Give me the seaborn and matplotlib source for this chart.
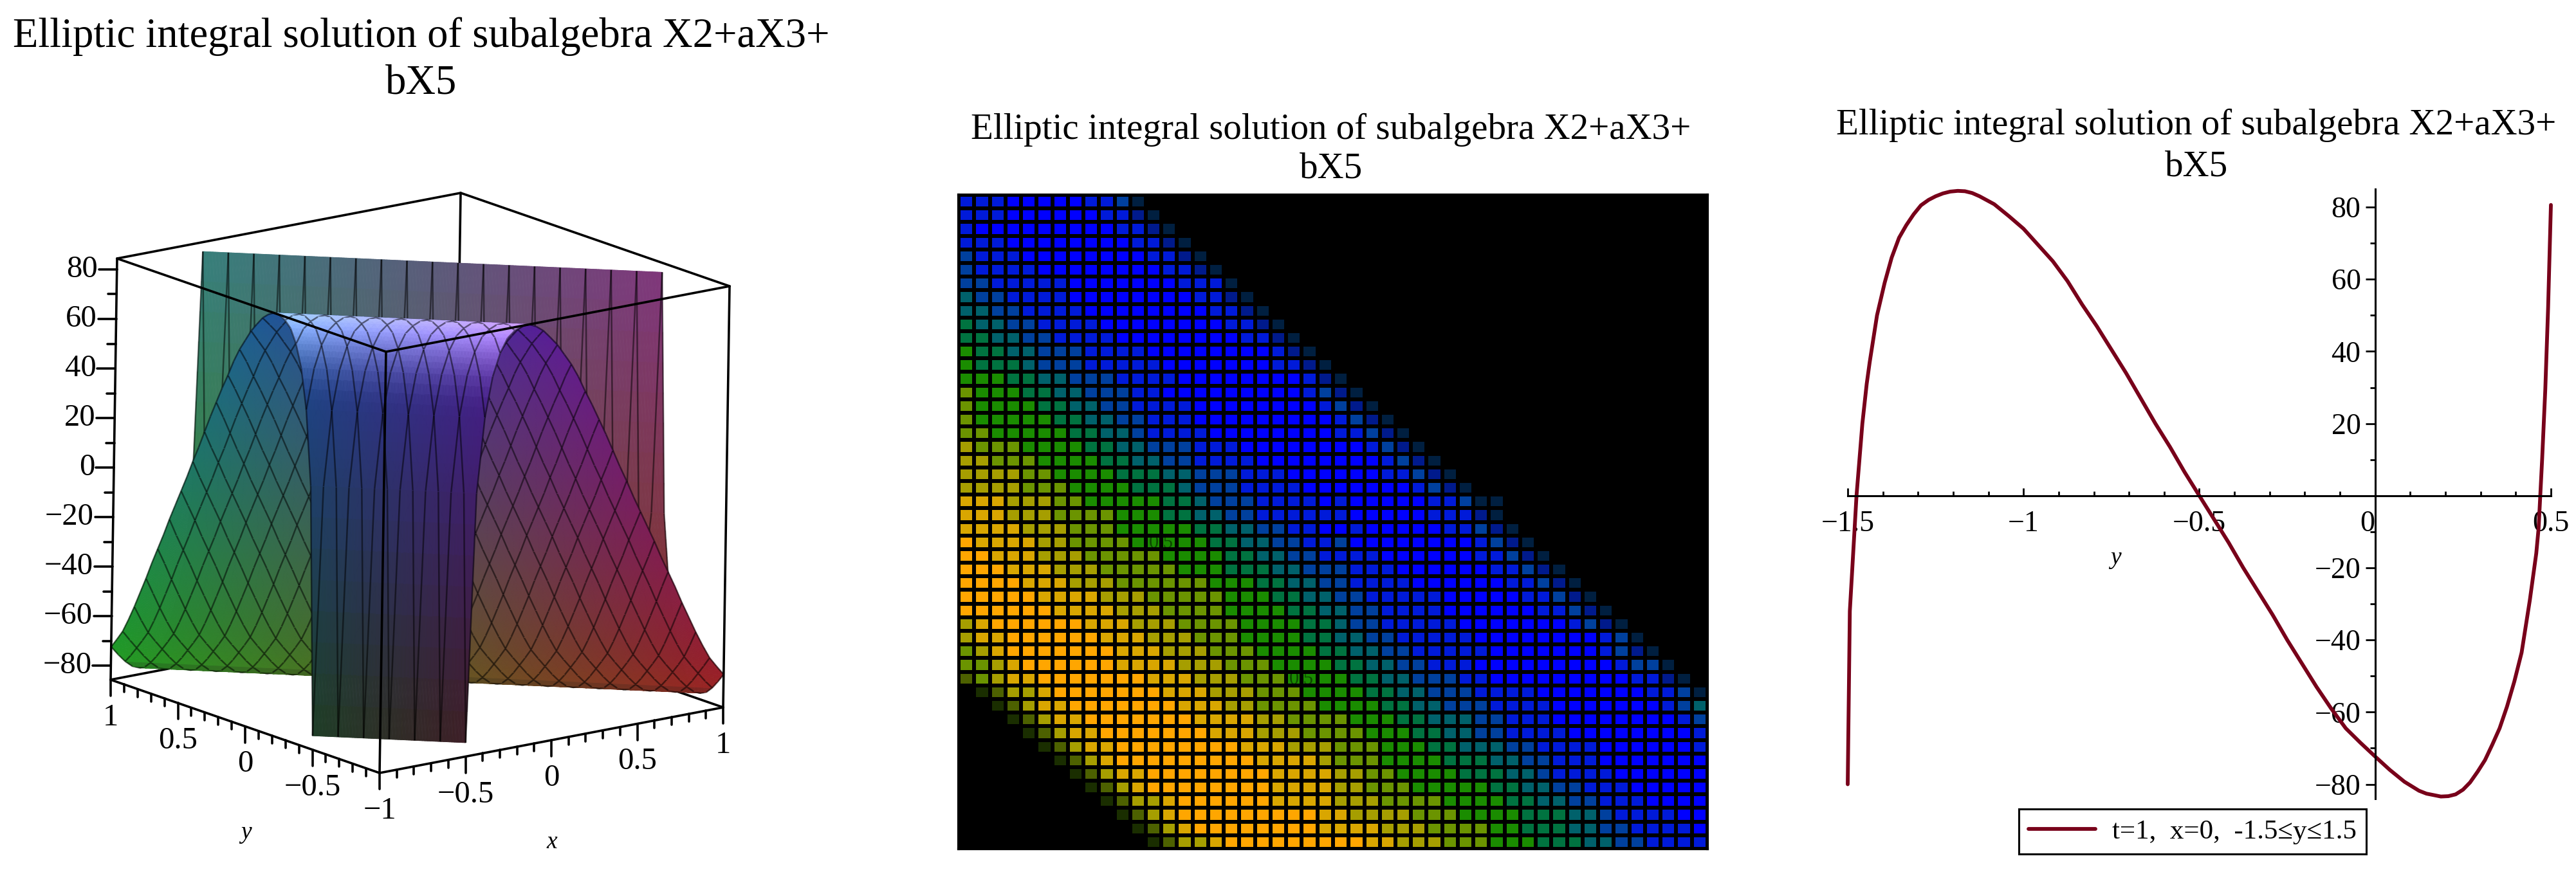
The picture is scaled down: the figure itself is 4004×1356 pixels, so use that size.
import numpy as np
import matplotlib
matplotlib.use("Agg")
import matplotlib.pyplot as plt
from matplotlib.collections import PolyCollection, LineCollection
from matplotlib.colors import ListedColormap
import seaborn as sns

title = "Elliptic integral solution of subalgebra X2+aX3+\nbX5"
legend_label = "t=1,  x=0,  -1.5\u2264y\u22641.5"

# value of the curve on y = -1.5 ... 0.5 in steps of 1/24
ridge_val = [-80, 20, 50, 66, 75, 80.5, 83, 84.3, 84.4, 83, 80.8, 77.5, 74, 69.5, 65, 59.5, 53,
             47, 40.5, 34, 27, 20, 13.5, 6.5, 0, -6.5, -13, -20, -26.5, -33, -40, -46.5, -53,
             -59, -64.5, -68.5, -72.3, -76, -79.3, -81.8, -83, -83.3, -81.5, -76.5, -69, -58.5,
             -43.5, -16, 80.6]
# extra points on the bends and steep ends of the curve
extra_y = [-1.494, -1.475, -1.446, -1.4375, -1.395, -1.354, -1.3125, -1.27, -1.229, -1.187, -1.146,
           0.146, 0.187, 0.229, 0.27, 0.3125, 0.354, 0.396, 0.44, 0.465, 0.475, 0.484, 0.492]
extra_val = [-32, 0, 31, 37, 59, 71.5, 78, 82, 83.8, 84.5, 83.9,
             -82.6, -83.4, -82.8, -79.5, -73.3, -64.5, -51.5, -29, -9, 10, 29.4, 52]

z_ticks = [-80, -60, -40, -20, 0, 20, 40, 60, 80]
y_ticks_3d = [1, 0.5, 0, -0.5, -1]
x_ticks_3d = [-0.5, 0, 0.5, 1]
curve_xticks = [-1.5, -1, -0.5, 0, 0.5]
curve_yticks = [-80, -60, -40, -20, 20, 40, 60, 80]

# colour level of each cell of the middle panel, hex digit per cell, short rows are black on the right
heat_rows = [
    "BBBCCCCCBBAE",
    "BBBCCCCCCBBDE",
    "BCCCCCCCCCBBDE",
    "BBBCCCCCCCCBBDE",
    "ABBBCCCCCCCCBBDE",
    "ABBBBCCCCCCCCBBDE",
    "AABBBBBCCCCCCCBBBE",
    "9AABBBBCCCCCCCCBBDE",
    "99AABBBBCCCCCCCCBBDE",
    "899AABBBBCCCCCCCCBBDE",
    "8899AABBBBCCCCCCCCBBDE",
    "78899AAABBBBCCCCCCCCBDE",
    "78889AAABBBBBCCCCCCCBBDE",
    "7778899AAABBBBCCCCCCCCBDE",
    "67778899AAABBCCCCCCCCCBADE",
    "677778899AABBBBCCCCCCCCBADE",
    "6777778899AABBBCCCCCCCCCBADE",
    "66777778899ABBBBCCCCCCCCBBADE",
    "566677778899AAABBBCCCCCCCCBADE",
    "5566677778899AABBBBCCCCCCCCBADE",
    "555566777788899AAABBBCCCCCCBBADE",
    "555566677778889AAABBBBCCCCCCCBADE",
    "4445556677777889AAABBBBCBCCCCCBBAEE",
    "44455566667778899AABBBBBBCCCCCBBBDE",
    "4444555666777778899AABBCCBCCCCCBBADE",
    "344445566667777788 99AABB".replace(" ", "") + "ACCCCCCCCBADE",
    "334445556666677778899AABBBBCCCCCCBBADE",
    "333444555666667778889 9AA".replace(" ", "") + "ABBBCCCCCCBBADE",
    "333344455566666677788 99A".replace(" ", "") + "ABBBBCCCCCCBBADE",
    "33333444455566666777 8899".replace(" ", "") + "AABBBBBCCCCCBBADE",
    "33333344445556666777788 9".replace(" ", "") + "9AABBBBCCCCCCBBADE",
    "543333334445556666777788" + "9AABBBBBCCCCCCCBADE",
    "544333333444555666777788" + "99AABBBBBCCCCCCCCBAE",
    "654333333344455566677778" + "899AABBBBBCCCCCCCBADE",
    "665433333344445556667777" + "8899AABBBCCCCCCCCCBAAE",
    "265443333333444555666777" + "78899AAABBCCCCCCCCCBBDE",
    "012554333333344455566677" + "778899AAABBBBCCCCCCCBBAE",
    "001254433333334445566667" + "7778899AAABBBBCCCCCCCBA9",
    "000125443333333444455666" + "677788999AABBBCCCCCCCCBA",
    "000012544333333344455566" + "667778899AABBBBCCCCCCCCB",
    "000001254433333333444555" + "66677788999AABBBBCCCCCCB",
    "000000125433333333344445" + "666777788899AABBBCCCCCCC",
    "000000012544333333334444" + "5566777788899ABBBBCCCCCC",
    "000000001254333333334444" + "55666777778899AABBBCCCCC",
    "000000000125543333334444" + "555666677778899AABBBCCCC",
    "000000000012543333333334" + "455556667777888 99ABBBBCC".replace(" ", ""),
    "000000000001254333333334" + "44455566667788899AABBBBC",
    "000000000000125543333333" + "33445556667778889 9AABBBB".replace(" ", ""),
]

W, H = 4004, 1356

sns.set_theme(style="white")
plt.rcParams["font.family"] = ["Liberation Serif", "DejaVu Serif"]

fig = plt.figure(figsize=(W / 100, H / 100), dpi=100)


def px_axes(left, top, right, bottom):
    return fig.add_axes([left / W, 1 - bottom / H, (right - left) / W, (bottom - top) / H])


canvas = fig.add_axes([0, 0, 1, 1])
canvas.set_xlim(0, W)
canvas.set_ylim(H, 0)
canvas.axis("off")

# ---- left panel, surface seen along the diagonal, z = curve(x + y)
zlo, zhi = -85.6, 84.4


def proj(x, y, z):
    u = (x + 1) / 2
    v = (y + 1) / 2
    w = (z - zlo) / (zhi - zlo)
    return (590 + 534 * u - 418 * v + 10 * w, 1202 - 102 * u - 145 * v - 655 * w)


grid = np.linspace(-1, 1, 49)


def level(i, j):
    return ridge_val[i + j - 12]


def shade(pts, k):
    x = np.mean([p[0] for p in pts])
    y = np.mean([p[1] for p in pts])
    z = np.mean([p[2] for p in pts])
    rgb = np.array([(x + 1) / 2, (y + 1) / 2, (z - zlo) / (zhi - zlo)])
    f = 0.48 if k < 38 else 0.38
    c = 0.12 + f * rgb
    if k <= 7:
        c = c + 0.5 * np.clip((z - 50) / 34, 0, 1) ** 2
    return tuple(np.clip(c, 0, 1))


def split(pts, n):
    # cut a triangle in four, n times, so steep strips get a smooth colour
    if n == 0:
        return [pts]
    a, b, c = [np.array(p) for p in pts]
    ab, bc, ca = (a + b) / 2, (b + c) / 2, (c + a) / 2
    out = []
    for t in [(a, ab, ca), (ab, b, bc), (ca, bc, c), (ab, bc, ca)]:
        out += split(t, n - 1)
    return out


for m in range(48):
    dz = abs(ridge_val[m + 1] - ridge_val[m])
    n = 3 if dz > 20 else (2 if dz > 4 else 1)
    tris, cols, segs = [], [], []
    for i in range(49):
        raw = []
        # lower triangles of the strip
        j = 12 + m - i
        if 0 <= j <= 47 and i <= 47:
            raw.append([(grid[i], grid[j], level(i, j)), (grid[i + 1], grid[j], level(i + 1, j)),
                        (grid[i], grid[j + 1], level(i, j + 1))])
        # upper triangles of the strip
        j = 13 + m - i
        if 1 <= j <= 48 and i >= 1:
            raw.append([(grid[i], grid[j], level(i, j)), (grid[i - 1], grid[j], level(i - 1, j)),
                        (grid[i], grid[j - 1], level(i, j - 1))])
        for pts in raw:
            for t in split(pts, n):
                tris.append([proj(*p) for p in t])
                cols.append(shade(t, m))
        # mesh lines, every second grid line
        j = 12 + m - i
        if 0 <= j <= 48:
            if i % 2 == 0 and j < 48:
                segs.append([proj(grid[i], grid[j], level(i, j)), proj(grid[i], grid[j + 1], level(i, j + 1))])
            if j % 2 == 0 and i < 48:
                segs.append([proj(grid[i], grid[j], level(i, j)), proj(grid[i + 1], grid[j], level(i + 1, j))])
    z0 = 10 + (48 - m)
    canvas.add_collection(PolyCollection(tris, facecolors=cols, edgecolors=cols, linewidths=0.6, zorder=z0))
    canvas.add_collection(LineCollection(segs, colors=[(0, 0, 0, 0.5)], linewidths=1.8, zorder=z0 + 0.5))

box_lw = 2.6


def edge(a, b, z):
    canvas.plot([a[0], b[0]], [a[1], b[1]], color="black", lw=box_lw, zorder=z, solid_capstyle="round")


tl, tf, tr, tb = proj(-1, 1, zhi), proj(-1, -1, zhi), proj(1, -1, zhi), proj(1, 1, zhi)
bl, bf, br, bb = proj(-1, 1, zlo), proj(-1, -1, zlo), proj(1, -1, zlo), proj(1, 1, zlo)
for a, b in [(tb, bb), (bb, bl), (bb, br), (tb, tl), (tb, tr)]:
    edge(a, b, 1)
for a, b in [(tl, tf), (tf, tr), (tl, bl), (tf, bf), (tr, br), (bl, bf), (bf, br)]:
    edge(a, b, 100)

tick_size = 35
for v in np.arange(-80, 81, 10):
    p = proj(-1, 1, v)
    major = v in z_ticks
    edge((p[0] - (28 if major else 13), p[1]), p, 100)
    if major:
        txt = str(v).replace("-", "\u2212")
        canvas.text(p[0] - 30, p[1], txt, ha="right", va="center", fontsize=tick_size, color="black")
for v in np.arange(-10, 11):
    p = proj(-1, v / 10, zlo)
    edge(p, (p[0], p[1] + (25 if v % 5 == 0 else 12)), 100)
    if v > -10:
        q = proj(v / 10, -1, zlo)
        edge(q, (q[0], q[1] + (25 if v % 5 == 0 else 12)), 100)
for v in y_ticks_3d:
    p = proj(-1, v, zlo)
    canvas.text(p[0], p[1] + 59, f"{v:g}".replace("-", "\u2212"), ha="center", va="center", fontsize=tick_size, color="black")
for v in x_ticks_3d:
    p = proj(v, -1, zlo)
    canvas.text(p[0], p[1] + 59, f"{v:g}".replace("-", "\u2212"), ha="center", va="center", fontsize=tick_size, color="black")
canvas.text(382, 1295, "y", style="italic", ha="center", va="center", fontsize=27, color="black")
canvas.text(858, 1310, "x", style="italic", ha="center", va="center", fontsize=27, color="black")
canvas.text(655, 93, title, ha="center", va="center", fontsize=46.5, color="black", linespacing=1.29)

# ---- middle panel
heat = np.array([[int(c, 16) for c in r.ljust(48, "F")] for r in heat_rows])
level_colors = ["#000000", "#1a2e00", "#4d6100", "#ffa600", "#d9a600", "#a69e00", "#6b9400", "#1a8c00",
                "#007340", "#00616b", "#00409e", "#001ad9", "#0000ff", "#001a8c", "#001f40", "#000000"]
ax2 = px_axes(1490, 303, 2654, 1320)
sns.heatmap(heat, ax=ax2, cmap=ListedColormap(level_colors), vmin=-0.5, vmax=15.5, cbar=False,
            linewidths=4.2, linecolor="black", xticklabels=False, yticklabels=False)
for s in ax2.spines.values():
    s.set_visible(True)
    s.set_color("black")
    s.set_linewidth(3)
canvas.text(2069, 232, title, ha="center", va="center", fontsize=41, color="black", linespacing=1.23)
fig.text(2023 / W, 1 - 1057 / H, "0.5", ha="center", va="center", fontsize=22, color="black", alpha=0.5)
fig.text(1805 / W, 1 - 845 / H, "0.5", ha="center", va="center", fontsize=22, color="black", alpha=0.5)

# ---- right panel
curve_y = np.concatenate([np.linspace(-1.5, 0.5, 49), extra_y])
curve_val = np.concatenate([ridge_val, extra_val])
order = np.argsort(curve_y)
ax3 = px_axes(2872, 294, 3965, 1242)
ax3.patch.set_alpha(0)
sns.lineplot(x=curve_y[order], y=curve_val[order], ax=ax3, color="#78001a", linewidth=4.2, sort=False,
             estimator=None, label=legend_label)
ax3.lines[0].set_clip_on(False)
ax3.set_xlim(-1.5, 0.5)
ax3.set_ylim(-84, 85)
ax3.spines["left"].set_position(("data", 0))
ax3.spines["bottom"].set_position(("data", 0))
ax3.spines["top"].set_visible(False)
ax3.spines["right"].set_visible(False)
for k in ["left", "bottom"]:
    ax3.spines[k].set_linewidth(2.2)
    ax3.spines[k].set_color("black")
ax3.set_xticks(curve_xticks)
ax3.set_xticklabels([f"{v:g}".replace("-", "\u2212") for v in curve_xticks])
ax3.set_xticks(np.arange(-1.5, 0.51, 0.1), minor=True)
ax3.set_yticks(curve_yticks)
ax3.set_yticklabels([str(v).replace("-", "\u2212") for v in curve_yticks])
ax3.set_yticks(np.arange(-80, 81, 10), minor=True)
ax3.tick_params(axis="x", which="major", direction="in", length=9, width=2, pad=16, labelsize=33, bottom=True, colors="black")
ax3.tick_params(axis="x", which="minor", direction="in", length=5, width=2, bottom=True, colors="black")
ax3.tick_params(axis="y", which="major", direction="out", length=11, width=2, pad=5, labelsize=33, left=True, colors="black")
ax3.tick_params(axis="y", which="minor", direction="out", length=6, width=2, left=True, colors="black")
for lab in ax3.get_xticklabels():
    if lab.get_text() == "0":
        lab.set_ha("right")
ax3.set_xlabel("")
ax3.set_ylabel("")
canvas.text(3288, 868, "y", style="italic", ha="center", va="center", fontsize=27, color="black")
canvas.text(3414, 227, title, ha="center", va="center", fontsize=41, color="black", linespacing=1.31)
leg = ax3.legend(loc="center", bbox_to_anchor=(3408 / W, 1 - 1293 / H), bbox_transform=fig.transFigure,
                 frameon=True, fancybox=False, edgecolor="black", framealpha=1, fontsize=31,
                 handlelength=2.4, borderpad=0.35, handletextpad=0.6, labelcolor="black")
leg.get_frame().set_linewidth(2.2)

fig.savefig("out.png", dpi=100)
